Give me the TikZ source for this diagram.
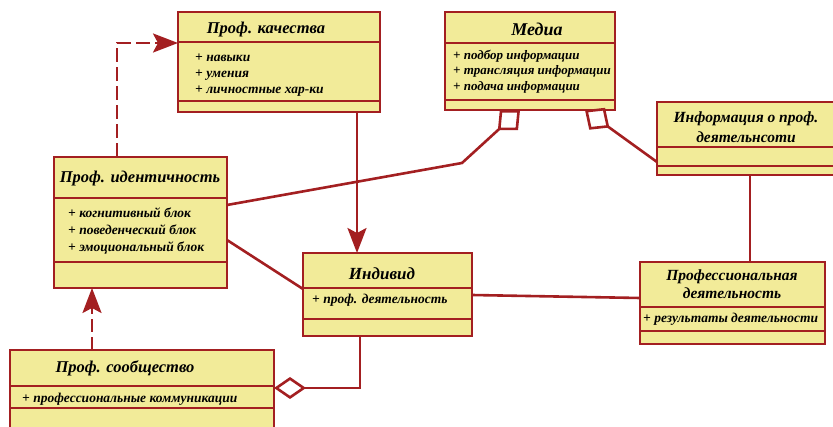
\documentclass[tikz,border=0pt]{standalone}
\usepackage{fontspec}
\setmainfont{Liberation Serif}
\usetikzlibrary{arrows.meta}
\usetikzlibrary{calc}
\definecolor{umlrot}{rgb}{0.64,0.12,0.13}
\definecolor{umlgelb}{rgb}{0.95,0.92,0.60}

\tikzset{
  klasse/.style={draw=umlrot, fill=umlgelb, line width=2.8pt, anchor=north west, inner sep=0pt, outer sep=0pt},
  trenn/.style={draw=umlrot, line width=2.2pt},
  titel/.style={font=\fontsize{16.5}{20}\selectfont\bfseries\itshape, align=center, inner sep=0pt},
  attr/.style={font=\fontsize{13.5}{15}\selectfont\bfseries\itshape, anchor=west, inner sep=0pt, text height=9pt, text depth=3pt},
  verb/.style={draw=umlrot, line width=2.6pt},
  pfeil/.style={verb, -{Stealth[length=25pt, width=19pt, inset=5pt]}},
  strich/.style={pfeil, dash pattern=on 14pt off 5pt},
  aggr/.style={verb, -{Diamond[length=32pt, width=22pt, fill=white]}},
  aggrbreit/.style={verb, -{Diamond[length=30pt, width=27pt, fill=white]}},
}

\begin{document}
\begin{tikzpicture}[x=1pt, y=-1pt] % 1 Einheit = 1 Pixel, y nach unten
\useasboundingbox (0,0) rectangle (833,427);
\clip (0,0) rectangle (833,427);

% Klassen: Name/x/y/Breite/Hoehe/Trenner 1/Trenner 2
\foreach \n/\x/\y/\w/\h/\a/\b in {qual/178/12/202/100/30/89, media/445/12/170/98/31/88, info/657/102/185/73/45/64, ident/54/157/173/131/41/105, indiv/303/253/169/83/35/66, taet/640/262/185/82/45/69, gemein/10/350/264/90/36/58} {
  \node[klasse, minimum width=\w pt, minimum height=\h pt] (\n) at (\x,\y) {};
  \draw[trenn] ($(\n.north west)+(0,\a)$) -- ($(\n.north east)+(0,\a)$); % Trenner Titel
  \draw[trenn] ($(\n.north west)+(0,\b)$) -- ($(\n.north east)+(0,\b)$); % Trenner Attribute
}

% Titel
\node[titel] (qual-t) at (266,30) {Проф. качества};
\node[titel, font=\fontsize{18}{20}\selectfont\bfseries\itshape] (media-t) at (537,29) {Медиа};
\node[titel, font=\fontsize{15.5}{20}\selectfont\bfseries\itshape] (info-t) at (746,127) {Информация о проф.\\деятельнсоти};
\node[titel] (ident-t) at (140,178.5) {Проф. идентичность};
\node[titel, font=\fontsize{17}{20}\selectfont\bfseries\itshape] (indiv-t) at (382,274) {Индивид};
\node[titel, font=\fontsize{15.5}{18}\selectfont\bfseries\itshape] (taet-t) at (732,284) {Профессиональная\\деятельность};
\node[titel] (gemein-t) at (125,368) {Проф. сообщество};

% Attribute
\foreach \t [count=\i] in {навыки, умения, личностные хар-ки}
  \node[attr] (qual-a\i) at (195,43+16*\i) {+ \t};
\foreach \t [count=\i] in {подбор информации, трансляция информации, подача информации}
  \node[attr, font=\fontsize{13}{15}\selectfont\bfseries\itshape] (media-a\i) at (453,41+15.5*\i) {+ \t};
\foreach \t [count=\i] in {когнитивный блок, поведенческий блок, эмоциональный блок}
  \node[attr] (ident-a\i) at (68,198+17*\i) {+ \t};
\node[attr] (indiv-a1) at (312,301) {+ проф. деятельность};
\node[attr] (taet-a1) at (643,320) {+ результаты деятельности};
\node[attr] (gemein-a1) at (22,400) {+ профессиональные коммуникации};

% Verbindungen
\coordinate (knick) at (462,163);
\draw[strich] ($(ident.north west)+(63,0)$) |- ($(qual.north west)+(0,31)$);
\draw[pfeil] ($(qual.south west)+(179,0)$) -- ($(indiv.north west)+(54,0)$);
\draw[aggrbreit] ($(ident.north east)+(0,48)$) -- (knick) -- ($(media.south west)+(75,0)$);
\draw[aggrbreit] ($(info.north west)+(0,60)$) -- ($(media.south west)+(140,0)$);
\draw[verb] ($(info.south west)+(93,0)$) -- ($(taet.north west)+(110,0)$);
\draw[verb] ($(indiv.north east)+(0,42)$) -- ($(taet.north west)+(0,36)$);
\draw[verb] ($(ident.north east)+(0,83)$) -- ($(indiv.north west)+(0,36)$);
\draw[aggr] ($(indiv.south west)+(57,0)$) |- ($(gemein.north east)+(0,38)$);
\draw[strich, dash pattern=on 13pt off 5pt] ($(gemein.north west)+(82,0)$) -- ($(ident.south west)+(38,0)$);

\end{tikzpicture}
\end{document}
